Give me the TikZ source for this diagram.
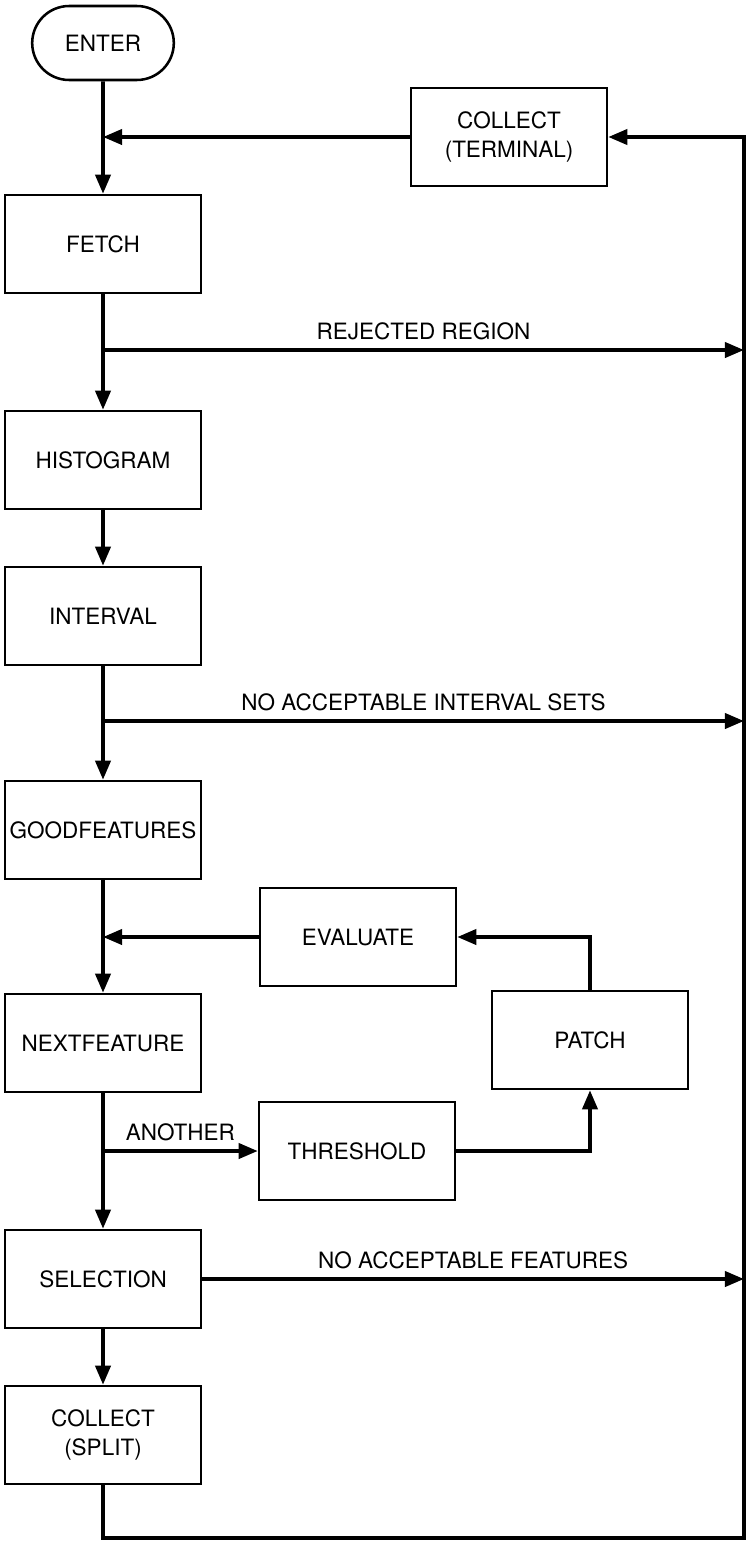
\documentclass[tikz,border=0pt]{standalone}
\usepackage{fontspec}
\setmainfont{TeX Gyre Heros}
\usetikzlibrary{arrows.meta, shapes.misc}

\begin{document}
\begin{tikzpicture}[line width=1.8pt, font=\fontsize{16}{20}\selectfont,
    main node/.style={rectangle, draw, minimum width=4.9cm, minimum height=2.45cm, align=center},
    end node/.style={rounded rectangle, draw, minimum width=3.775cm, minimum height=1.85cm},
    flow/.style={line width=2.6pt, -{Triangle[length=0.48cm, width=0.38cm]}},
    branch label/.style={above, inner sep=6pt}]

    \useasboundingbox (0,0) rectangle (18.7,-38.525);

    % Main column
    \node[end node] (enter) at (2.575,-1.075) {ENTER};
    \node[main node] (fetch) at (2.575,-6.1) {FETCH};
    \node[main node] (histogram) at (2.575,-11.5) {HISTOGRAM};
    \node[main node] (interval) at (2.575,-15.4) {INTERVAL};
    \node[main node] (goodfeatures) at (2.575,-20.75) {GOODFEATURES};
    \node[main node] (nextfeature) at (2.575,-26.075) {NEXTFEATURE};
    \node[main node] (selection) at (2.575,-31.975) {SELECTION};
    \node[main node] (collectS) at (2.575,-35.875) {COLLECT\\(SPLIT)};

    % Side boxes
    \node[main node] (collectT) at (12.725,-3.425) {COLLECT\\(TERMINAL)};
    \node[main node] (evaluate) at (8.95,-23.425) {EVALUATE};
    \node[main node] (patch) at (14.75,-26.0) {PATCH};
    \node[main node] (threshold) at (8.925,-28.775) {THRESHOLD};

    % Branch points and the return rail
    \coordinate (rejected) at (2.575,-8.75);
    \coordinate (nosets) at (2.575,-18.025);
    \coordinate (another) at (threshold.west -| nextfeature.south);
    \coordinate (railB) at (18.6,-38.45);
    \coordinate (railT) at (18.6,-3.425);

    \draw[flow] (enter) -- (fetch);
    \draw[flow] (fetch) -- (histogram);
    \draw[flow] (histogram) -- (interval);
    \draw[flow] (interval) -- (goodfeatures);
    \draw[flow] (goodfeatures) -- (nextfeature);
    \draw[flow] (nextfeature) -- (selection);
    \draw[flow] (selection) -- (collectS);

    \draw[flow] (collectT.west) -- (collectT.west -| enter.south);
    \draw[flow] (evaluate.west) -- (evaluate.west -| goodfeatures.south);

    \draw[flow] (rejected) -- node[branch label] {REJECTED REGION} (rejected -| railB);
    \draw[flow] (nosets) -- node[branch label] {NO ACCEPTABLE INTERVAL SETS} (nosets -| railB);
    \draw[flow] (selection.east) -- node[branch label] {NO ACCEPTABLE FEATURES} (selection.east -| railB);

    % Feature loop
    \draw[flow] (another) -- node[branch label] {ANOTHER} (threshold.west);
    \draw[flow] (threshold.east) -| (patch.south);
    \draw[flow] (patch.north) |- (evaluate.east);

    % Return to COLLECT (TERMINAL)
    \draw[flow] (collectS.south) |- (railB) -- (railT) -- (collectT.east);

\end{tikzpicture}
\end{document}
